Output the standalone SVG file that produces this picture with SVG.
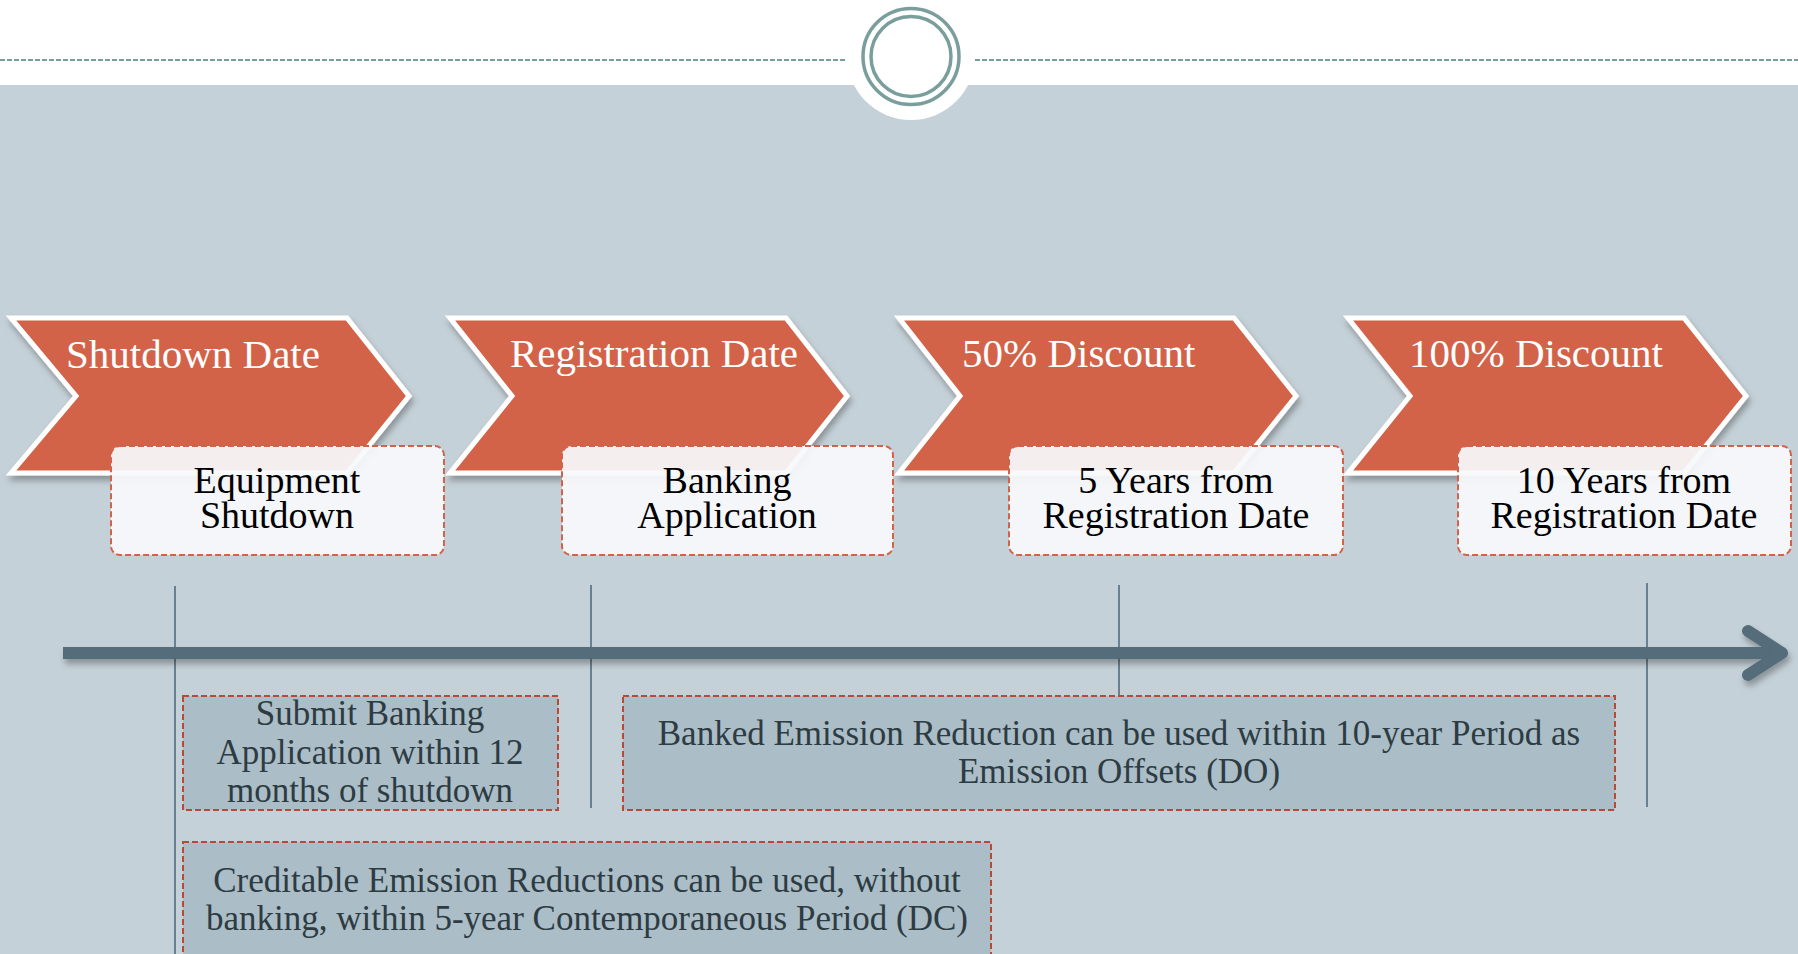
<svg xmlns="http://www.w3.org/2000/svg" width="1798" height="954" viewBox="0 0 1798 954">
<style>
.chev{fill:#D2634A;stroke:#FFFFFF;stroke-width:5;filter:url(#sh)}
.ctext{font-family:"Liberation Serif",serif;font-size:41px;fill:#FFFFFF}
.tbox{fill:#F8F9FB;fill-opacity:0.93;stroke:#D2634A;stroke-width:2;stroke-dasharray:6 3}
.ttext{font-family:"Liberation Serif",serif;font-size:38px;fill:#000000;text-anchor:middle}
.lbox{fill:#ABBDC6;stroke:#B84A35;stroke-width:2;stroke-dasharray:6 3}
.ltext{font-family:"Liberation Serif",serif;font-size:35px;fill:#2D3B42;text-anchor:middle}
.vline{stroke:#546C7A;stroke-width:1.6}
</style>
<defs>
<filter id="sh" x="-10%" y="-10%" width="125%" height="135%">
<feDropShadow dx="2" dy="5" stdDeviation="3" flood-color="#000" flood-opacity="0.3"/>
</filter>
<filter id="sh2" x="-5%" y="-100%" width="110%" height="400%">
<feDropShadow dx="2" dy="5" stdDeviation="3" flood-color="#000" flood-opacity="0.3"/>
</filter>
</defs>
<rect x="0" y="0" width="1798" height="954" fill="#FFFFFF"/>
<rect x="0" y="85" width="1798" height="869" fill="#C5D1D8"/>
<g id="header">
<line x1="0" y1="60" x2="845" y2="60" stroke="#7A9E9C" stroke-width="2" stroke-dasharray="5 2"/>
<line x1="975" y1="60" x2="1798" y2="60" stroke="#7A9E9C" stroke-width="2" stroke-dasharray="5 2"/>
<circle cx="911" cy="56" r="64" fill="#FFFFFF"/>
<circle cx="911" cy="56.5" r="48" fill="none" stroke="#7A9E9C" stroke-width="3.5"/>
<circle cx="911" cy="56.5" r="40" fill="none" stroke="#7A9E9C" stroke-width="3.5"/>
</g>
<g id="connectors">
<line class="vline" x1="175" y1="586" x2="175" y2="954"/>
<line class="vline" x1="591" y1="585" x2="591" y2="808"/>
<line class="vline" x1="1119" y1="585" x2="1119" y2="696"/>
<line class="vline" x1="1647" y1="583" x2="1647" y2="807"/>
<g filter="url(#sh2)">
<line x1="63" y1="653" x2="1782" y2="653" stroke="#546C7A" stroke-width="12"/>
<polyline points="1748,631 1782,653 1748,675" fill="none" stroke="#546C7A" stroke-width="12" stroke-linecap="round" stroke-linejoin="round"/>
</g>
</g>
<g id="step1">
<path class="chev" d="M11,318 L347,318 L409,396 L347,473 L11,473 L76,396 Z"/>
<text class="ctext" x="66" y="368">Shutdown Date</text>
</g>
<g id="box1">
<rect class="tbox" x="111" y="446" width="333" height="109" rx="9"/>
<text class="ttext" x="277" y="493">Equipment</text>
<text class="ttext" x="277" y="528">Shutdown</text>
</g>
<g id="step2">
<path class="chev" d="M450,318 L786,318 L847,396 L786,473 L450,473 L512,396 Z"/>
<text class="ctext" x="510" y="367">Registration Date</text>
</g>
<g id="box2">
<rect class="tbox" x="562" y="446" width="331" height="109" rx="9"/>
<text class="ttext" x="727" y="493">Banking</text>
<text class="ttext" x="727" y="528">Application</text>
</g>
<g id="step3">
<path class="chev" d="M899,318 L1234,318 L1296,396 L1234,473 L899,473 L960,396 Z"/>
<text class="ctext" x="962" y="367">50% Discount</text>
</g>
<g id="box3">
<rect class="tbox" x="1009" y="446" width="334" height="109" rx="9"/>
<text class="ttext" x="1176" y="493">5 Years from</text>
<text class="ttext" x="1176" y="528">Registration Date</text>
</g>
<g id="step4">
<path class="chev" d="M1348,318 L1684,318 L1746,396 L1684,473 L1348,473 L1410,396 Z"/>
<text class="ctext" x="1409" y="367">100% Discount</text>
</g>
<g id="box4">
<rect class="tbox" x="1458" y="446" width="333" height="109" rx="9"/>
<text class="ttext" x="1624" y="493">10 Years from</text>
<text class="ttext" x="1624" y="528">Registration Date</text>
</g>
<g id="submit">
<rect class="lbox" x="183" y="696" width="375" height="114"/>
<text class="ltext" x="370" y="725">Submit Banking</text>
<text class="ltext" x="370" y="764">Application within 12</text>
<text class="ltext" x="370" y="802">months of shutdown</text>
</g>
<g id="banked">
<rect class="lbox" x="623" y="696" width="992" height="114"/>
<text class="ltext" x="1119" y="745">Banked Emission Reduction can be used within 10-year Period as</text>
<text class="ltext" x="1119" y="783">Emission Offsets (DO)</text>
</g>
<g id="creditable">
<rect class="lbox" x="183" y="842" width="808" height="120"/>
<text class="ltext" x="587" y="892">Creditable Emission Reductions can be used, without</text>
<text class="ltext" x="587" y="930">banking, within 5-year Contemporaneous Period (DC)</text>
</g>
</svg>
